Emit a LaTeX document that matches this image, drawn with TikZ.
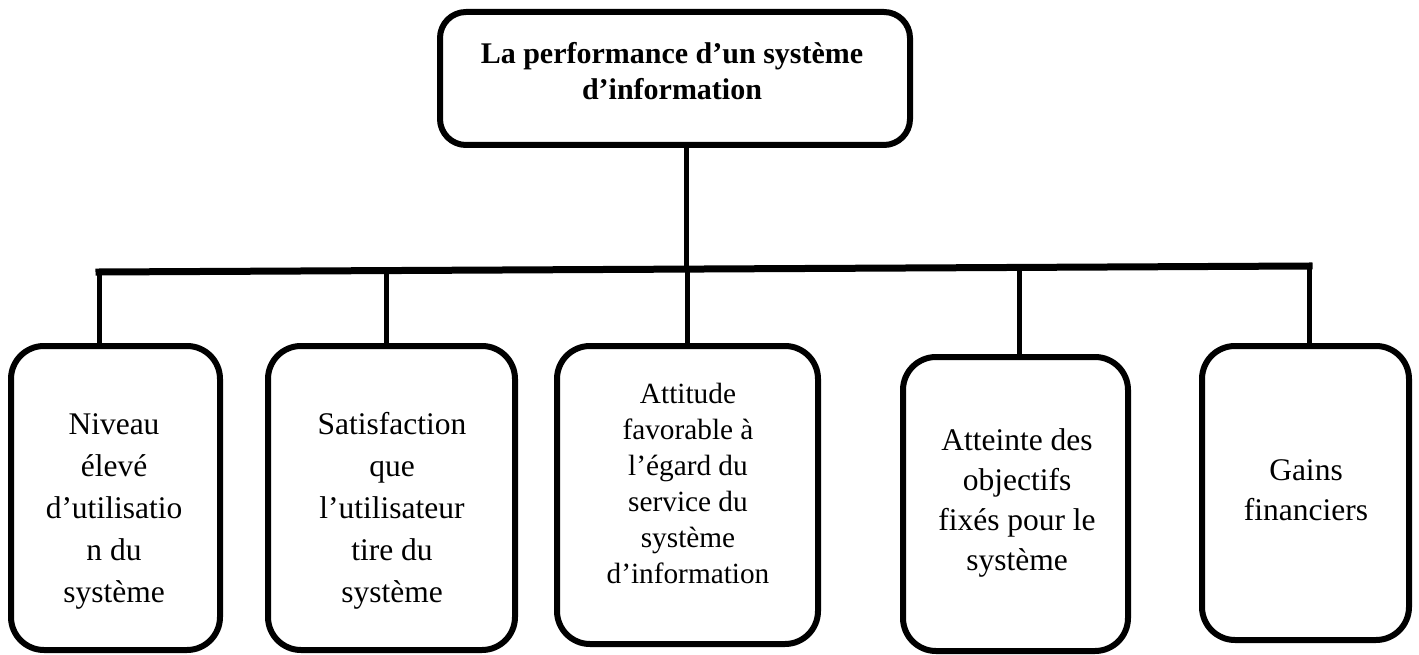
\documentclass[tikz,border=0pt]{standalone}
\usepackage{fontspec}
\setmainfont{Liberation Serif}
\usetikzlibrary{calc}
\begin{document}
\begin{tikzpicture}[x=1pt,y=-1pt,
  box/.style={draw, line width=6pt, rounded corners=33pt, inner sep=0pt, fill=white},
  topbox/.style={box, rounded corners=26pt},
  lbl/.style={align=center, inner sep=0pt},
  txtA/.style={lbl, font=\fontsize{31.5}{42}\selectfont},
  txtB/.style={lbl, font=\fontsize{31.5}{40}\selectfont},
  txtC/.style={lbl, font=\fontsize{29.3}{36}\selectfont},
  link/.style={line width=5pt},
  bus/.style={line width=7pt, line cap=rect}]
\useasboundingbox (0,0) rectangle (1419,655);

% bus junction points
\coordinate (d1) at (99,272);
\coordinate (d2) at (386,270.6);
\coordinate (d3) at (687,269.1);
\coordinate (d4) at (1019,267.4);
\coordinate (d5) at (1309,266);
\coordinate (dt) at (686,269.1);

% boxes
\node[topbox, minimum width=470pt, minimum height=133pt] (top) at (675,78.5) {};
\node[box, minimum width=209pt, minimum height=304pt] (b1) at (115.5,498) {};
\node[box, minimum width=247pt, minimum height=304pt] (b2) at (391.5,498) {};
\node[box, minimum width=261pt, minimum height=298pt] (b3) at (687.5,495) {};
\node[box, minimum width=225pt, minimum height=294pt] (b4) at (1015.5,504) {};
\node[box, minimum width=207pt, minimum height=294pt] (b5) at (1305.5,493) {};

% connectors
\draw[link] (top.south -| dt) -- (dt);
\draw[bus] (d1) -- (d5);
\draw[link] (d1) -- (d1 |- b1.north);
\draw[link] (d2) -- (d2 |- b2.north);
\draw[link] (d3) -- (d3 |- b3.north);
\draw[link] (d4) -- (d4 |- b4.north);
\draw[link] (d5) -- (d5 |- b5.north);

% texts
\node[lbl, font=\fontsize{30}{36}\selectfont\bfseries] (title) at (672,71.5)
  {La performance d’un système\\d’information};
\node[txtA] (t1) at (114,511) {Niveau\\élevé\\d’utilisatio\\n du\\système};
\node[txtA] (t2) at (392,511) {Satisfaction\\que\\l’utilisateur\\tire du\\système};
\node[txtC] (t3) at (688,483) {Attitude\\favorable à\\l’égard du\\service du\\système\\d’information};
\node[txtB] (t4) at (1017,503) {Atteinte des\\objectifs\\fixés pour le\\système};
\node[txtB] (t5) at (1306,490) {Gains\\financiers};
\end{tikzpicture}
\end{document}
